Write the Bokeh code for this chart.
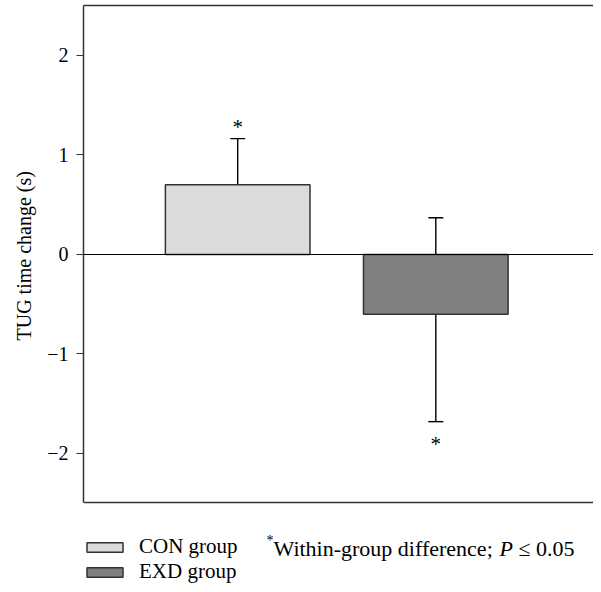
from bokeh.plotting import figure
from bokeh.models import (ColumnDataSource, Range1d, Whisker, TeeHead, Span, LinearAxis,
                          FixedTicker, Legend, LegendItem, Label, Title)
from bokeh.core.properties import value
from bokeh.embed import file_html
from bokeh.resources import INLINE

# ---- data ----
groups = ["CON group", "EXD group"]
change = [0.70, -0.60]
err_upper = [1.165, 0.37]
err_lower = [0.265, -1.68]
star_above = [True, False]   # CON: star above error bar; EXD: star below
fills = ["#dcdcdc", "#808080"]
y_ticks = [-2, -1, 0, 1, 2]
y_title = "TUG time change (s)"
note_star = "*"
note_text = "Within-group difference; "
note_p = "P"
note_tail = "\u2264 0.05"

FONT = "Liberation Serif"
FS = "20px"
LINE = "#333333"
xs = [i + 1 for i in range(len(groups))]

W, H = 593, 584
# axis box limits (data units) and visible range
Y_LO, Y_HI = -2.4925, 2.5025
Y_START = -3.3166
src = ColumnDataSource(dict(x=xs, top=change, upper=err_upper, lower=err_lower,
                            fill=fills, label=groups))

p = figure(width=W, height=H, output_backend="svg", toolbar_location=None,
           x_range=Range1d(0.2217, 2.796), y_range=Range1d(Y_START, Y_HI),
           x_axis_location=None,
           min_border_left=82, min_border_right=0, min_border_top=5, min_border_bottom=0)
p.outline_line_color = None
p.xgrid.visible = False
p.ygrid.visible = False
p.background_fill_color = "white"
p.border_fill_color = "white"

# top border as an empty axis
top_axis = LinearAxis(ticker=FixedTicker(ticks=[]), axis_line_color=LINE, axis_line_width=1.5,
                      major_tick_line_color=None, minor_tick_line_color=None,
                      major_tick_out=0, major_tick_in=0, major_label_standoff=0)
p.add_layout(top_axis, "above")

# y axis (left border)
p.yaxis.bounds = (Y_LO, Y_HI)
p.yaxis.ticker = FixedTicker(ticks=y_ticks)
p.yaxis.major_label_overrides = {t: str(t).replace("-", "\u2212") for t in y_ticks}
p.yaxis.axis_line_color = LINE
p.yaxis.axis_line_width = 1.5
p.yaxis.major_tick_out = 7
p.yaxis.major_tick_in = 0
p.yaxis.major_tick_line_color = LINE
p.yaxis.major_tick_line_width = 1.2
p.yaxis.minor_tick_line_color = None
p.yaxis.major_label_standoff = 8
p.yaxis.major_label_text_font = FONT
p.yaxis.major_label_text_font_size = FS
p.yaxis.major_label_text_color = "black"

# y-axis title, placed along the bounded part of the axis
ytitle = Title(text=y_title, align="left", offset=H - 340, standoff=20,
               text_font=FONT, text_font_size=FS, text_font_style="normal",
               text_color="black")
p.add_layout(ytitle, "left")

# bottom border
p.add_layout(Span(location=Y_LO, dimension="width", line_color=LINE, line_width=1.5))

r = p.vbar(x="x", top="top", bottom=0, width=0.73, source=src,
           fill_color="fill", line_color=LINE, line_width=1.5)

p.add_layout(Span(location=0, dimension="width", line_color="black", line_width=1.2))

w = Whisker(base="x", upper="upper", lower="lower", source=src,
            line_color="black", line_width=1.4,
            upper_head=TeeHead(size=15, line_color="black", line_width=1.4),
            lower_head=TeeHead(size=15, line_color="black", line_width=1.4))
p.add_layout(w)

# significance stars
up = ColumnDataSource(dict(x=[x for x, a in zip(xs, star_above) if a],
                           y=[u for u, a in zip(err_upper, star_above) if a]))
lo = ColumnDataSource(dict(x=[x for x, a in zip(xs, star_above) if not a],
                           y=[l for l, a in zip(err_lower, star_above) if not a]))
p.text(x="x", y="y", text=value("*"), source=up, text_font=value(FONT),
       text_font_size="21px", text_align="center", text_baseline="middle", y_offset=-12,
       text_color="black")
p.text(x="x", y="y", text=value("*"), source=lo, text_font=value(FONT),
       text_font_size="21px", text_align="center", text_baseline="middle", y_offset=22,
       text_color="black")

legend = Legend(items=[LegendItem(label=g, renderers=[r], index=i) for i, g in enumerate(groups)],
                location=(-1, 0), orientation="vertical",
                glyph_width=45, glyph_height=12, label_standoff=12, spacing=0,
                padding=0, margin=0, border_line_color=None, background_fill_alpha=0,
                label_text_font=FONT, label_text_font_size="21px", label_height=23,
                label_text_color="black")
p.add_layout(legend, "center")

NFS = 22
x0 = 190
px = x0 + 10.275 * NFS
tx = px + 0.861 * NFS
for txt, xx, yy, fs, style in [(note_star, 183, 44, "14px", "normal"),
                               (note_text, x0, 36, f"{NFS}px", "normal"),
                               (note_p, px, 36, f"{NFS}px", "italic"),
                               (note_tail, tx, 36, f"{NFS}px", "normal")]:
    p.add_layout(Label(x=xx, y=yy, x_units="screen", y_units="screen", text=txt,
                       text_font=FONT, text_font_size=fs, text_font_style=style,
                       text_color="black", text_baseline="alphabetic"))

open("out.html", "w").write(file_html(p, INLINE))
